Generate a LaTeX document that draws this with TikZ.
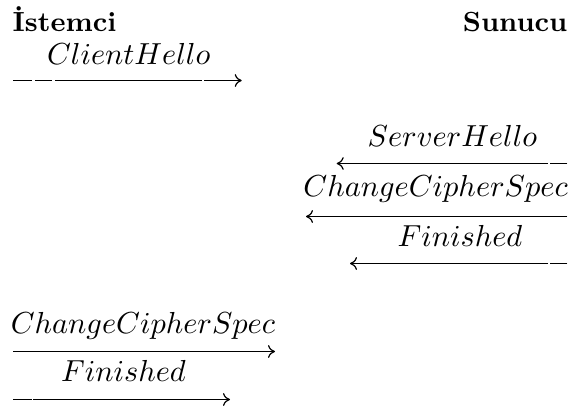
\documentclass[tikz,border=0pt]{standalone}
\usetikzlibrary{arrows.meta}
\begin{document}
\begin{tikzpicture}[x=0.3289pt, y=-0.3289pt,
  party/.style={inner sep=0pt, font=\fontsize{9.1pt}{11pt}\selectfont\bfseries},
  msg/.style={inner sep=0pt, anchor=base},
  arr/.style={line width=0.4pt, -{Computer Modern Rightarrow[length=2.3pt, width=4.2pt]}}]
\useasboundingbox (0,0) rectangle (572,410);

% parties
\node[party, anchor=base west] (client) at (12,31.5) {İstemci};
\node[party, anchor=base east] (server) at (568,31.5) {Sunucu};

% ClientHello
\node[msg] (ch) at (128.8,64) {$ClientHello$};
\coordinate (chA) at (13.3,80.5);
\coordinate (chB) at (241.7,80.5);
\draw[arr, dash pattern=on 6.05pt off 1.09pt on 5.69pt off 0.89pt on 48.3pt off 0.86pt on 40pt] (chA) -- (chB);

% ServerHello
\node[msg] (sh) at (452.5,146.7) {$ServerHello$};
\coordinate (shA) at (567.3,163.5);
\coordinate (shB) at (336.7,163.5);
\draw[arr, dash pattern=on 5.7pt off 0.75pt on 100pt] (shA) -- (shB);

% ChangeCipherSpec (server)
\node[msg] (scc) at (435.7,196) {$ChangeCipherSpec$};
\coordinate (sccA) at (567.3,216.5);
\coordinate (sccB) at (306,216.5);
\draw[arr] (sccA) -- (sccB);

% Finished (server)
\node[msg] (sf) at (460,246.7) {$Finished$};
\coordinate (sfA) at (567.3,263.5);
\coordinate (sfB) at (350,263.5);
\draw[arr, dash pattern=on 5.7pt off 0.6pt on 100pt] (sfA) -- (sfB);

% ChangeCipherSpec (client)
\node[msg] (ccc) at (143,333.3) {$ChangeCipherSpec$};
\coordinate (cccA) at (13.3,351.5);
\coordinate (cccB) at (275,351.5);
\draw[arr] (cccA) -- (cccB);

% Finished (client)
\node[msg] (cf) at (123.5,381.7) {$Finished$};
\coordinate (cfA) at (13.3,399.5);
\coordinate (cfB) at (230,399.5);
\draw[arr, dash pattern=on 6.05pt off 0.55pt on 100pt] (cfA) -- (cfB);
\end{tikzpicture}
\end{document}
